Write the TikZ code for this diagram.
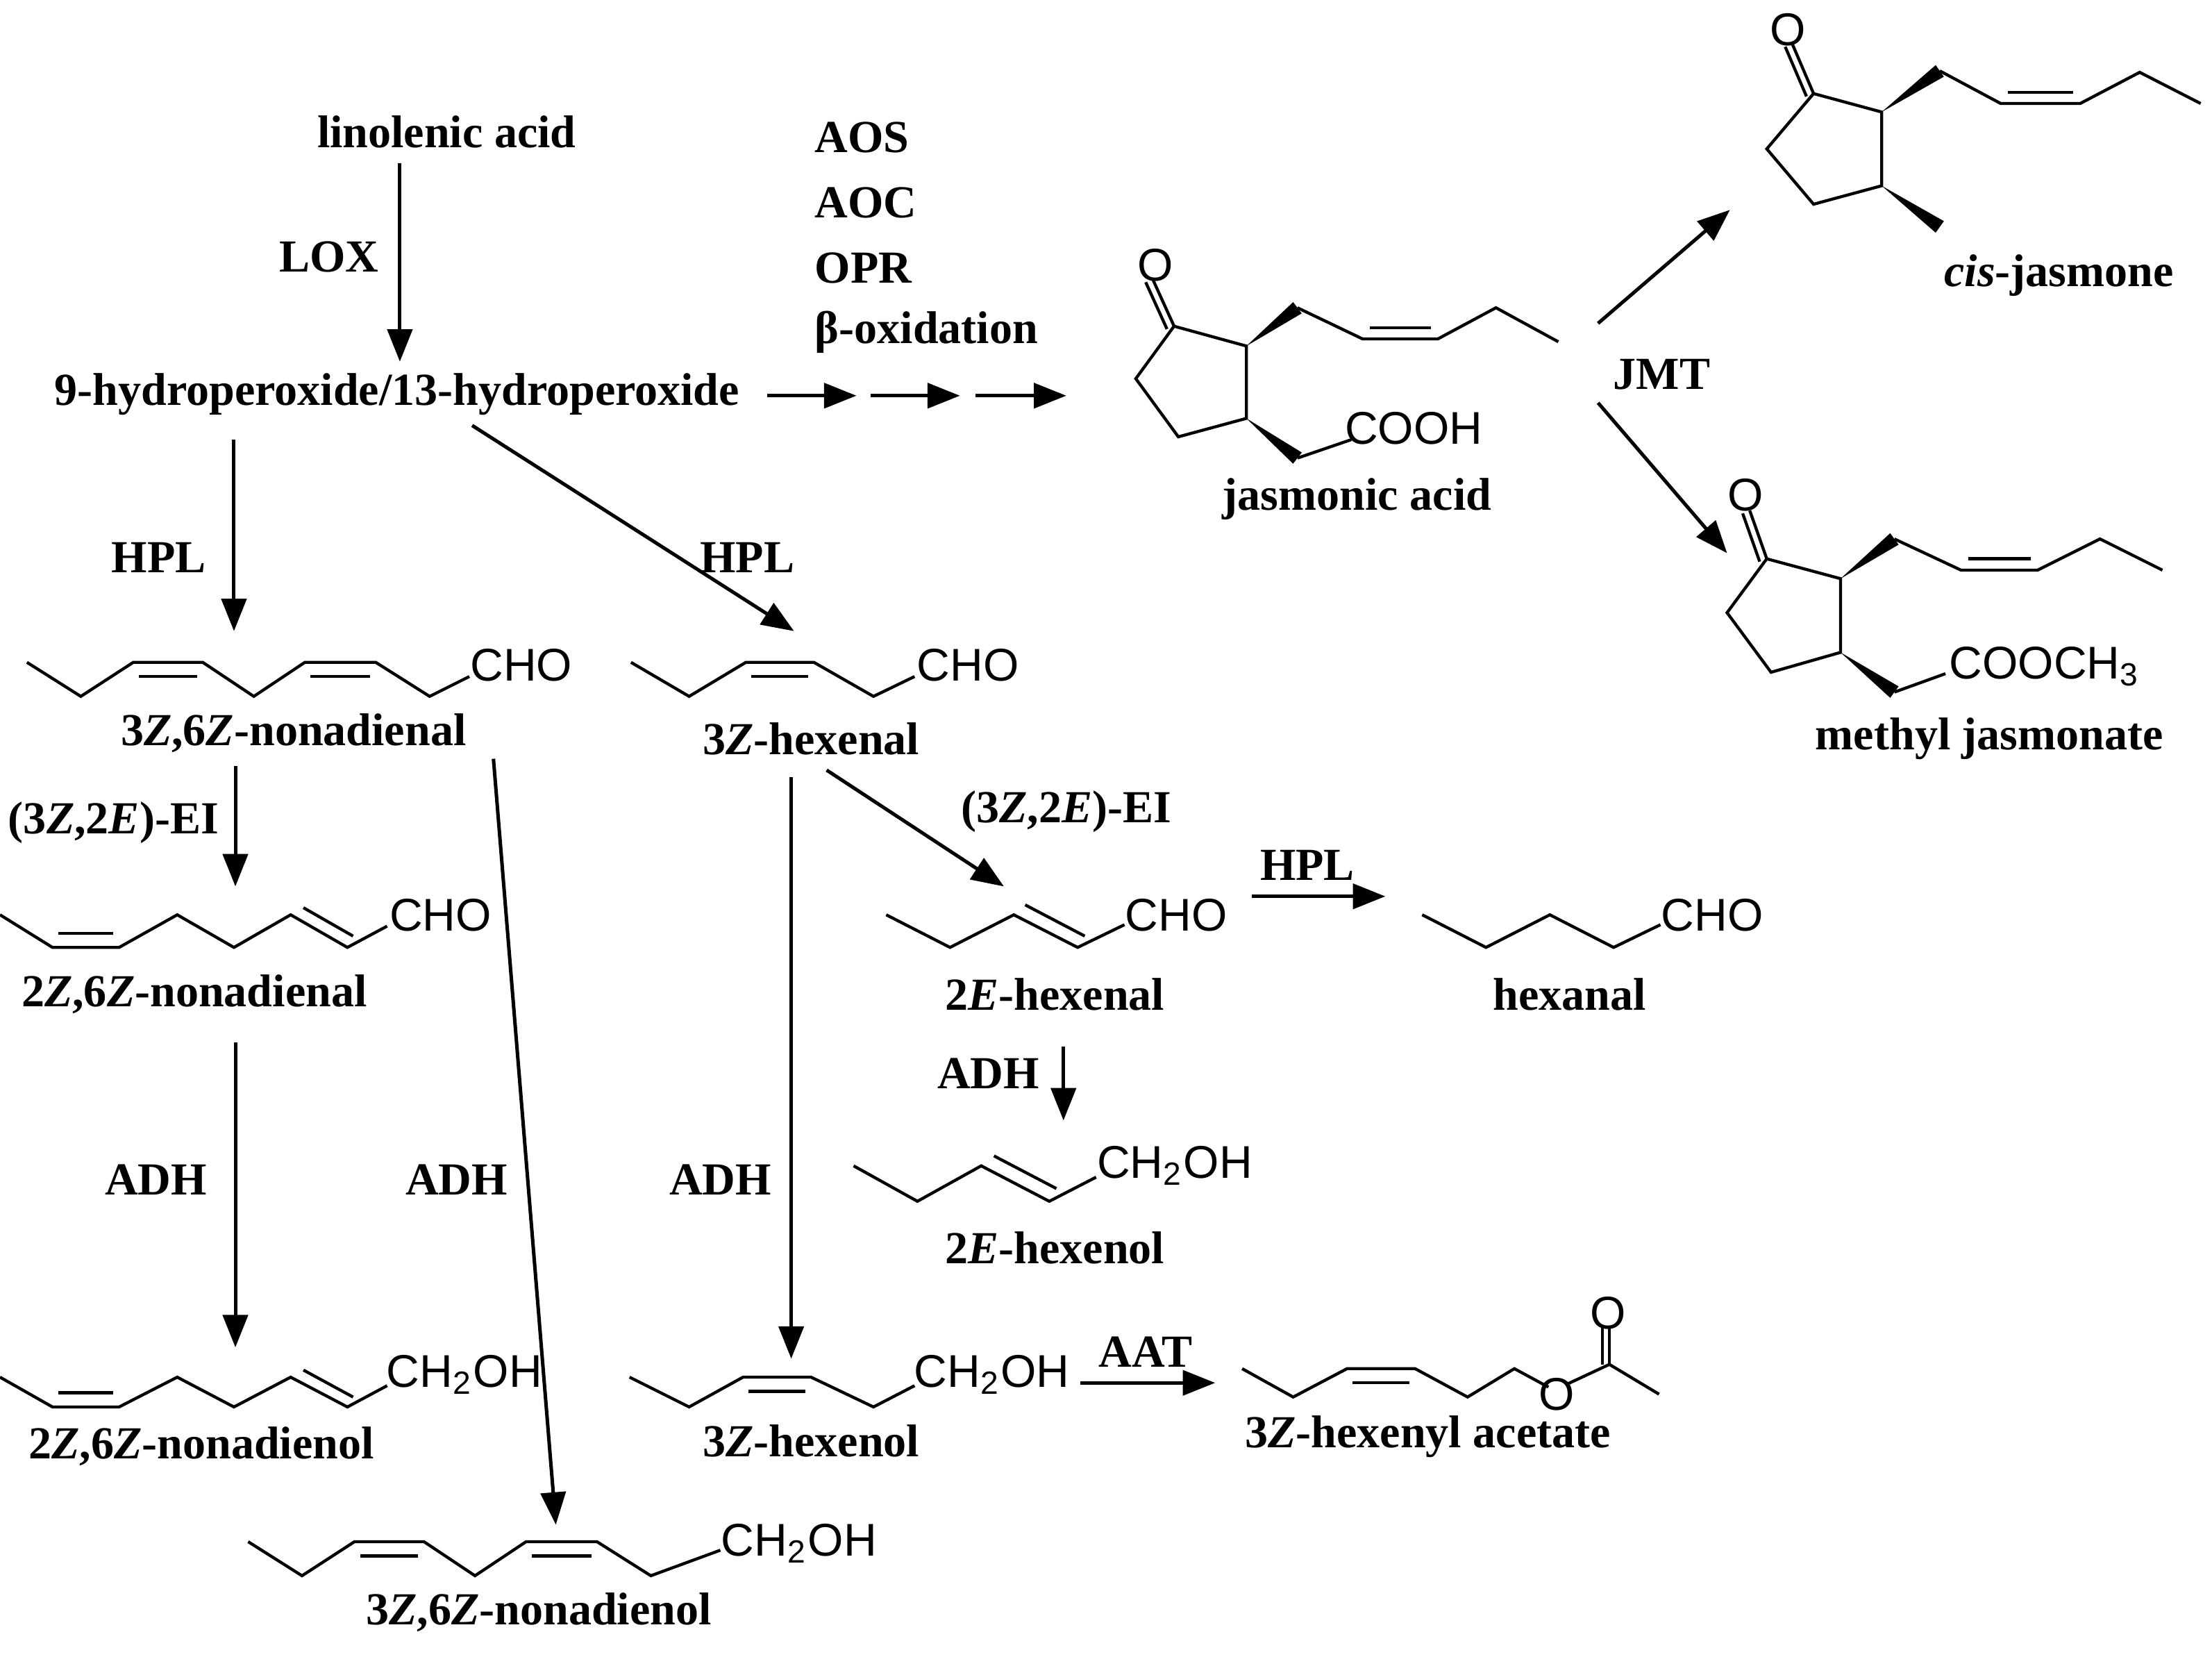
\documentclass[tikz,border=0pt]{standalone}
\usepackage{fontspec}
\setmainfont{Liberation Serif}
\setsansfont{Liberation Sans}
\usetikzlibrary{calc, arrows.meta}
\tikzset{
  lbl/.style={font=\bfseries\fontsize{9.2}{10}\selectfont, inner sep=0pt},
  grp/.style={font=\sffamily\fontsize{9.2}{10}\selectfont, inner sep=0pt},
  bond/.style={line width=0.6pt},
  rxn/.style={line width=0.7pt, -{Triangle[length=6.5pt, width=5pt]}}
}
\newcommand{\wedgebond}[2]{\fill ($(#1)$) -- ($(#2)!0.05cm!90:(#1)$) -- ($(#2)!0.05cm!-90:(#1)$) -- cycle;}

\begin{document}
\begin{tikzpicture}[x=0.01cm, y=-0.01cm]
  \useasboundingbox (0,0) rectangle (1560,1168);
  % precursors
  \node (lin) [lbl] at (315,93) {linolenic acid};
  \node (hpo) [lbl] at (280,278) {9-hydroperoxide/13-hydroperoxide};
  \draw [rxn] (282,115) -- (282,255);
  \node (lox) [lbl] at (232,181) {LOX};
  \node (aos) [lbl, anchor=west] at (574,97) {AOS};
  \node (aoc) [lbl, anchor=west] at (574,143) {AOC};
  \node (opr) [lbl, anchor=west] at (574,189) {OPR};
  \node (box) [lbl, anchor=west] at (574,234) {β-oxidation};
  \draw [rxn] (541,279) -- (604,279);
  \draw [rxn] (614,279) -- (677,279);
  \draw [rxn] (688,279) -- (752,279);

  % jasmonic acid
  \draw [bond] (828,230) -- (879,244) -- (879,295) -- (831,308) -- (801,267) -- cycle;
  \draw [bond] (828,230) -- (813,197);
  \draw [bond] (823,232) -- (808,199);
  \node (jao) [grp] at (815,187) {O};
  \wedgebond{879,244}{915,217}
  \draw [bond] (915,217) -- (961,239) -- (1014,239) -- (1055,217) -- (1099,241);
  \draw [bond] (966,231) -- (1009,231);
  \wedgebond{879,295}{915,323}
  \draw [bond] (915,323) -- (953,310);
  \node (jacooh) [grp] at (997,302) {COOH};
  \node (ja) [lbl] at (957,352) {jasmonic acid};

  % cis-jasmone
  \draw [rxn] (1127,228) -- (1220,148);
  \draw [rxn] (1127,284) -- (1218,390);
  \node (jmt) [lbl] at (1172,264) {JMT};
  \draw [bond] (1279,66) -- (1327,79) -- (1327,131) -- (1279,144) -- (1246,105) -- cycle;
  \draw [bond] (1279,66) -- (1264,31);
  \draw [bond] (1274,68) -- (1259,33);
  \node (cjo) [grp] at (1261,21) {O};
  \wedgebond{1327,79}{1368,50}
  \draw [bond] (1368,50) -- (1411,73) -- (1467,73) -- (1509,51) -- (1552,73);
  \draw [bond] (1416,65) -- (1462,65);
  \wedgebond{1327,131}{1368,160}
  \node (cj) [lbl] at (1452,194) {\textit{cis}-jasmone};

  % methyl jasmonate
  \draw [bond] (1246,394) -- (1298,408) -- (1298,460) -- (1249,474) -- (1218,432) -- cycle;
  \draw [bond] (1246,394) -- (1234,360);
  \draw [bond] (1241,396) -- (1229,362);
  \node (mjo) [grp] at (1231,349) {O};
  \wedgebond{1298,408}{1336,380}
  \draw [bond] (1336,380) -- (1383,402) -- (1437,402) -- (1481,380) -- (1525,402);
  \draw [bond] (1388,394) -- (1432,394);
  \wedgebond{1298,460}{1336,488}
  \draw [bond] (1336,488) -- (1372,475);
  \node (mjcooch) [grp, anchor=west] at (1374,470) {COOCH\textsubscript{3}};
  \node (mj) [lbl] at (1403,521) {methyl jasmonate};

  % HPL branches
  \draw [rxn] (165,310) -- (165,445);
  \node (hpl1) [lbl] at (112,393) {HPL};
  \draw [rxn] (333,300) -- (560,445);
  \node (hpl2) [lbl] at (527,393) {HPL};

  % 3Z,6Z-nonadienal
  \draw [bond] (19,467) -- (57,491) -- (94,467) -- (143,467) -- (179,491) -- (215,467) -- (265,467) -- (303,491) -- (331,477);
  \draw [bond] (98,477) -- (139,477);
  \draw [bond] (219,477) -- (261,477);
  \node (nal) [grp, anchor=west] at (331,469) {CHO};
  \node (zznal) [lbl] at (207,517) {3\textit{Z},6\textit{Z}-nonadienal};
  \draw [rxn] (166,540) -- (166,625);
  \node (ei1) [lbl] at (80,580) {(3\textit{Z},2\textit{E})-EI};

  % 2Z,6Z-nonadienal
  \draw [bond] (0,645) -- (37,668) -- (84,668) -- (125,645) -- (165,668) -- (205,645) -- (245,668) -- (273,653);
  \draw [bond] (41,658) -- (80,658);
  \draw [bond] (214,640) -- (249,660);
  \node (nal2) [grp, anchor=west] at (274,645) {CHO};
  \node (zenal) [lbl] at (137,701) {2\textit{Z},6\textit{Z}-nonadienal};
  \draw [rxn] (166,735) -- (166,950);
  \node (adh1) [lbl] at (110,832) {ADH};

  % 2Z,6Z-nonadienol
  \draw [bond] (0,971) -- (37,992) -- (84,992) -- (125,971) -- (165,992) -- (205,971) -- (245,992) -- (273,977);
  \draw [bond] (41,982) -- (80,982);
  \draw [bond] (214,966) -- (249,985);
  \node (nol2) [grp, anchor=west] at (272,969) {CH\textsubscript{2}OH};
  \node (zenol) [lbl] at (142,1020) {2\textit{Z},6\textit{Z}-nonadienol};

  % 3Z,6Z-nonadienol
  \draw [rxn] (348,535) -- (392,1075);
  \node (adh2) [lbl] at (322,832) {ADH};
  \draw [bond] (175,1087) -- (213,1111) -- (250,1087) -- (299,1087) -- (335,1111) -- (371,1087) -- (421,1087) -- (459,1111) -- (508,1093);
  \draw [bond] (254,1097) -- (295,1097);
  \draw [bond] (375,1097) -- (417,1097);
  \node (nol) [grp, anchor=west] at (508,1088) {CH\textsubscript{2}OH};
  \node (zznol) [lbl] at (380,1137) {3\textit{Z},6\textit{Z}-nonadienol};

  % 3Z-hexenal
  \draw [bond] (445,467) -- (486,491) -- (526,467) -- (574,467) -- (616,491) -- (645,477);
  \draw [bond] (530,477) -- (570,477);
  \node (hal) [grp, anchor=west] at (646,469) {CHO};
  \node (zhal) [lbl] at (572,521) {3\textit{Z}-hexenal};
  \draw [rxn] (558,548) -- (558,958);
  \node (adh3) [lbl] at (508,832) {ADH};
  \draw [rxn] (583,543) -- (708,625);
  \node (ei2) [lbl] at (752,572) {(3\textit{Z},2\textit{E})-EI};

  % 2E-hexenal and hexanal
  \draw [bond] (625,645) -- (670,668) -- (715,645) -- (760,668) -- (793,652);
  \draw [bond] (723,638) -- (765,660);
  \node (ehal) [grp, anchor=west] at (793,645) {CHO};
  \node (ehexal) [lbl] at (744,701) {2\textit{E}-hexenal};
  \draw [rxn] (883,632) -- (977,632);
  \node (hpl3) [lbl] at (922,610) {HPL};
  \draw [bond] (1003,645) -- (1048,668) -- (1093,645) -- (1138,668) -- (1171,652);
  \node (hxal) [grp, anchor=west] at (1171,645) {CHO};
  \node (hexanal) [lbl] at (1107,701) {hexanal};

  % 2E-hexenol
  \node (adh4) [lbl] at (697,757) {ADH};
  \draw [rxn] (750,738) -- (750,790);
  \draw [bond] (602,822) -- (647,847) -- (692,822) -- (740,847) -- (773,830);
  \draw [bond] (701,815) -- (745,838);
  \node (ehol) [grp, anchor=west] at (773,822) {CH\textsubscript{2}OH};
  \node (ehexol) [lbl] at (744,880) {2\textit{E}-hexenol};

  % 3Z-hexenol and acetate
  \draw [bond] (444,971) -- (486,992) -- (524,971) -- (572,971) -- (616,992) -- (645,977);
  \draw [bond] (528,981) -- (568,981);
  \node (hol) [grp, anchor=west] at (644,969) {CH\textsubscript{2}OH};
  \node (zhol) [lbl] at (572,1016) {3\textit{Z}-hexenol};
  \draw [rxn] (762,975) -- (857,975);
  \node (aat) [lbl] at (808,953) {AAT};
  \draw [bond] (876,965) -- (912,985) -- (950,965) -- (998,965) -- (1035,985) -- (1068,965) -- (1092,978);
  \draw [bond] (954,975) -- (994,975);
  \node (esto) [grp] at (1098,983) {O};
  \draw [bond] (1105,976) -- (1135,962) -- (1170,983);
  \draw [bond] (1135,962) -- (1135,936);
  \draw [bond] (1130,962) -- (1130,936);
  \node (acto) [grp] at (1134,926) {O};
  \node (zhac) [lbl] at (1007,1013) {3\textit{Z}-hexenyl acetate};
\end{tikzpicture}
\end{document}
